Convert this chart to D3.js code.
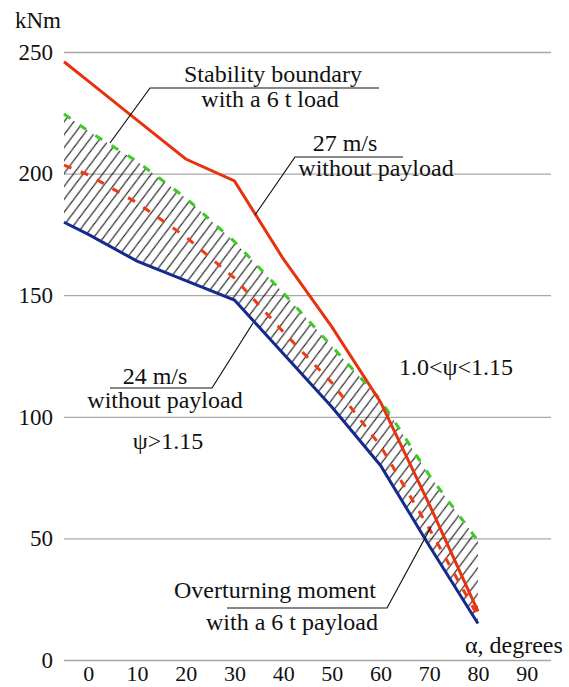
<!DOCTYPE html>
<html>
<head>
<meta charset="utf-8">
<script src="https://cdn.jsdelivr.net/npm/d3@7"></script>
<style>
  body { margin: 0; background: #fff; }
  text { font-family: "Liberation Serif", "Times New Roman", serif; fill: #111; }
</style>
</head>
<body>
<svg id="chart" width="569" height="687"></svg>
<script>
// angle, degrees
const alpha = [-5, 0, 10, 20, 30, 40, 50, 60, 70, 80]
// 27 m/s without payload (solid red)
const wind27 = [246, 238, 222, 206, 197, 165, 137, 106, 64, 20]
// stability boundary with a 6 t load (green dashed)
const stability6t = [224.5, 217.5, 205, 190, 172, 151, 129, 107, 76, 49]
// 24 m/s without payload (red dashed)
const wind24 = [203.5, 199.5, 188, 174, 157, 135, 114, 88, 54, 18]
// overturning moment with a 6 t payload (blue)
const overturn6t = [180, 175, 164, 156, 148, 126, 104, 80, 47, 15]

const yTicks = [0, 50, 100, 150, 200, 250]
const xTicks = [0, 10, 20, 30, 40, 50, 60, 70, 80, 90]

const svg = d3.select('#chart')
const x = d3.scaleLinear().domain([-5, 95]).range([64, 551])
const y = d3.scaleLinear().domain([0, 250]).range([660, 52])

// grid + y labels
const gy = svg.append('g').attr('transform', 'translate(64,0)')
  .call(d3.axisLeft(y).tickValues(yTicks).tickSize(-(551 - 64)).tickPadding(11))
gy.select('.domain').remove()
gy.selectAll('line').attr('stroke', '#a8a8a8').attr('stroke-width', 1.3)
gy.selectAll('text').attr('font-size', 23).attr('fill', '#111')

const gx = svg.append('g').attr('transform', 'translate(0,660)')
  .call(d3.axisBottom(x).tickValues(xTicks).tickSize(0).tickPadding(5))
gx.select('.domain').remove()
gx.selectAll('text').attr('font-size', 22).attr('fill', '#111')

svg.append('text').attr('x', 15).attr('y', 28).attr('font-size', 23).text('kNm')
svg.append('text').attr('x', 465).attr('y', 653).attr('font-size', 24).text('α, degrees')

// hatched zone between overturning moment and stability boundary
const rows = alpha.map((a, i) => ({a: a, lo: overturn6t[i], hi: stability6t[i], r27: wind27[i], r24: wind24[i]}))

const defs = svg.append('defs')
const pat = defs.append('pattern').attr('id', 'hatch')
  .attr('patternUnits', 'userSpaceOnUse').attr('width', 11).attr('height', 11)
  .attr('patternTransform', 'rotate(-8)')
pat.append('path').attr('d', 'M0,11 L11,0 M-2,2 L2,-2 M9,13 L13,9')
  .attr('stroke', '#111').attr('stroke-width', 1.1)

const area = d3.area().x(d => x(d.a)).y0(d => y(d.lo)).y1(d => y(d.hi))
svg.append('path').datum(rows).attr('d', area).attr('fill', 'url(#hatch)')

const line = key => d3.line().x(d => x(d.a)).y(d => y(d[key]))

svg.append('path').datum(rows).attr('d', line('r24'))
  .attr('fill', 'none').attr('stroke', '#f03a14').attr('stroke-width', 3).attr('stroke-dasharray', '8 10')
svg.append('path').datum(rows).attr('d', line('hi'))
  .attr('fill', 'none').attr('stroke', '#3ccc22').attr('stroke-width', 3).attr('stroke-dasharray', '8 11')
svg.append('path').datum(rows).attr('d', line('lo'))
  .attr('fill', 'none').attr('stroke', '#142a8c').attr('stroke-width', 3)
svg.append('path').datum(rows).attr('d', line('r27'))
  .attr('fill', 'none').attr('stroke', '#e8320f').attr('stroke-width', 3)

// callouts
const notes = [
  {t: 'Stability boundary', x: 273, y: 82},
  {t: 'with a 6 t load', x: 270, y: 107},
  {t: '27 m/s', x: 345, y: 151},
  {t: 'without payload', x: 376, y: 176},
  {t: '24 m/s', x: 155, y: 384},
  {t: 'without payload', x: 165, y: 408},
  {t: 'ψ>1.15', x: 168, y: 449},
  {t: '1.0<ψ<1.15', x: 456, y: 375},
  {t: 'Overturning moment', x: 275, y: 598},
  {t: 'with a 6 t payload', x: 292, y: 630}
]
svg.append('g').selectAll('text').data(notes).enter().append('text')
  .attr('x', d => d.x).attr('y', d => d.y)
  .attr('text-anchor', 'middle').attr('font-size', 24)
  .text(d => d.t)

const leaders = [
  [[379, 88], [150, 88], [110, 143]],
  [[403, 157], [295, 157], [255, 215]],
  [[110, 388], [212, 388], [253, 323]],
  [[227, 608], [387, 608], [431, 527]]
]
svg.append('g').selectAll('path').data(leaders).enter().append('path')
  .attr('d', d3.line())
  .attr('fill', 'none').attr('stroke', '#111').attr('stroke-width', 1.2)
</script>
</body>
</html>
